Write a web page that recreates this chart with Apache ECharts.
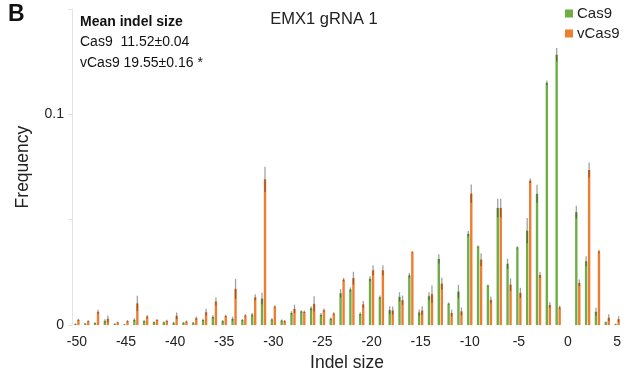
<!DOCTYPE html>
<html>
<head>
<meta charset="utf-8">
<script src="https://cdn.jsdelivr.net/npm/echarts@6/dist/echarts.min.js"></script>
<style>
  html, body { margin: 0; padding: 0; background: #fff; }
  #chart { width: 633px; height: 377px; }
</style>
</head>
<body>
<div id="chart"></div>
<script>
// Indel sizes -50 .. 5
const indelSizes = [];
for (let s = -50; s <= 5; s++) indelSizes.push(String(s));

const xTickLabels = ['-50', '-45', '-40', '-35', '-30', '-25', '-20', '-15', '-10', '-5', '0', '5'];
const yTickLabels = ['0', '0.1'];

const cas9Freq = [
  0.0005, 0.0007, 0.0010, 0.0020, 0.0006, 0.0003, 0.0025, 0.0019, 0.0014, 0.0013,
  0.0011, 0.0011, 0.0011, 0.0024, 0.0039, 0.0019, 0.0030, 0.0024, 0.0050, 0.0126,
  0.0027, 0.0022, 0.0058, 0.0065, 0.0080, 0.0049, 0.0030, 0.0151, 0.0169, 0.0053,
  0.0220, 0.0132, 0.0071, 0.0134, 0.0236, 0.0060, 0.0137, 0.0314, 0.0102, 0.0159,
  0.0433, 0.0373, 0.0188, 0.0556, 0.0291, 0.0369, 0.0448, 0.0623, 0.1150, 0.1283,
  0, 0.0536, 0.0303, 0.0063, 0.0014, 0.0005
];
const vcas9Freq = [
  0.0025, 0.0019, 0.0063, 0.0030, 0.0013, 0.0019, 0.0103, 0.0041, 0.0024, 0.0020,
  0.0044, 0.0017, 0.0033, 0.0061, 0.0112, 0.0043, 0.0172, 0.0046, 0.0132, 0.0692,
  0.0088, 0.0019, 0.0077, 0.0063, 0.0101, 0.0071, 0.0055, 0.0216, 0.0223, 0.0098,
  0.0260, 0.0260, 0.0069, 0.0118, 0.0348, 0.0069, 0.0147, 0.0197, 0.0057, 0.0065,
  0.0624, 0.0311, 0.0120, 0.0556, 0.0192, 0.0153, 0.0685, 0.0238, 0.0095, 0.0084,
  0, 0.0200, 0.0736, 0.0350, 0.0035, 0.0028
];
const cas9Err = [
  0.0003, 0.0003, 0.0004, 0.0008, 0.0003, 0.0002, 0.0007, 0.0005, 0.0004, 0.0004,
  0.0004, 0.0004, 0.0004, 0.0006, 0.0008, 0.0005, 0.0010, 0.0005, 0.0008, 0.0027,
  0.0005, 0.0005, 0.0008, 0.0006, 0.0010, 0.0008, 0.0006, 0.0020, 0.0010, 0.0008,
  0.0013, 0.0008, 0.0019, 0.0022, 0.0011, 0.0014, 0.0019, 0.0022, 0.0005, 0.0032,
  0.0013, 0.0005, 0.0005, 0.0044, 0.0024, 0.0005, 0.0060, 0.0043, 0.0011, 0.0032,
  0, 0.0030, 0.0024, 0.0019, 0.0003, 0.0002
];
const vcas9Err = [
  0.0005, 0.0004, 0.0010, 0.0016, 0.0004, 0.0005, 0.0036, 0.0007, 0.0005, 0.0005,
  0.0016, 0.0005, 0.0008, 0.0016, 0.0019, 0.0006, 0.0047, 0.0006, 0.0014, 0.0060,
  0.0006, 0.0005, 0.0020, 0.0006, 0.0036, 0.0008, 0.0006, 0.0008, 0.0030, 0.0016,
  0.0024, 0.0024, 0.0019, 0.0022, 0.0003, 0.0020, 0.0041, 0.0028, 0.0016, 0.0019,
  0.0043, 0.0030, 0.0016, 0.0044, 0.0030, 0.0024, 0.0011, 0.0014, 0.0014, 0.0008,
  0, 0.0016, 0.0035, 0.0008, 0.0016, 0.0014
];

const GREEN = '#70ad47';
const ORANGE = '#ed7d31';
const FONT = 'Liberation Sans, Arial, Helvetica, sans-serif';

// error bar drawn as a short vertical stroke, shifted onto its bar
function errorBars(values, errs, dx) {
  return {
    type: 'custom',
    z: 5,
    silent: true,
    data: values.map((v, i) => [i, v, errs[i]]),
    renderItem: function (params, api) {
      const i = api.value(0), v = api.value(1), e = api.value(2);
      if (!v || !e) return null;
      const lo = api.coord([i, Math.max(0, v - e)]);
      const hi = api.coord([i, v + e]);
      const x = lo[0] + dx;
      return {
        type: 'line',
        shape: { x1: x, y1: lo[1], x2: x, y2: hi[1] },
        style: { stroke: 'rgba(30,30,30,0.42)', lineWidth: 1.3 }
      };
    }
  };
}

const chart = echarts.init(document.getElementById('chart'));
chart.setOption({
  animation: false,
  textStyle: { fontFamily: FONT },
  title: {
    text: 'EMX1 gRNA 1',
    left: 319,
    top: 6,
    textAlign: 'center',
    textStyle: { fontFamily: FONT, fontSize: 16.5, fontWeight: 'normal', color: '#222' }
  },
  legend: {
    orient: 'vertical',
    left: 565,
    top: 6,
    padding: 0,
    itemWidth: 8,
    itemHeight: 8,
    itemGap: 5,
    icon: 'rect',
    data: ['Cas9', 'vCas9'],
    textStyle: { fontFamily: FONT, fontSize: 15, color: '#222', padding: [1, 0, 0, -1] }
  },
  grid: { left: 72, right: 11, top: 9, bottom: 51.5, containLabel: false },
  xAxis: {
    type: 'category',
    data: indelSizes,
    boundaryGap: true,
    name: 'Indel size',
    nameLocation: 'middle',
    nameGap: 20,
    nameTextStyle: { fontFamily: FONT, fontSize: 17.5, color: '#222' },
    axisLine: { show: false },
    axisTick: { show: false },
    axisLabel: {
      interval: 0,
      margin: 10,
      fontFamily: FONT,
      fontSize: 14,
      color: '#222',
      formatter: v => xTickLabels.includes(v) ? v : ''
    }
  },
  yAxis: {
    type: 'value',
    min: 0,
    max: 0.15,
    interval: 0.05,
    name: 'Frequency',
    nameLocation: 'middle',
    nameGap: 40,
    nameTextStyle: { fontFamily: FONT, fontSize: 17.5, color: '#222' },
    axisLine: { show: true, lineStyle: { color: '#e3e3e3', width: 1 } },
    axisTick: { show: true, inside: false, length: 4, lineStyle: { color: '#e3e3e3' } },
    splitLine: { show: false },
    axisLabel: {
      margin: 8,
      fontFamily: FONT,
      fontSize: 14,
      color: '#222',
      formatter: v => {
        const s = v === 0 ? '0' : String(Math.round(v * 100) / 100);
        return yTickLabels.includes(s) ? s : '';
      }
    }
  },
  series: [
    {
      name: 'Cas9',
      type: 'bar',
      data: cas9Freq,
      barWidth: 2.4,
      barGap: '25%',
      itemStyle: { color: GREEN }
    },
    {
      name: 'vCas9',
      type: 'bar',
      data: vcas9Freq,
      barWidth: 2.4,
      barGap: '25%',
      itemStyle: { color: ORANGE }
    },
    errorBars(cas9Freq, cas9Err, -1.5),
    errorBars(vcas9Freq, vcas9Err, 1.5)
  ],
  graphic: [
    {
      type: 'text', left: 8, top: 3,
      style: { text: 'B', font: 'bold 23px ' + FONT, fill: '#111' }
    },
    {
      type: 'text', left: 80, top: 15,
      style: { text: 'Mean indel size', font: 'bold 14px ' + FONT, fill: '#111' }
    },
    {
      type: 'text', left: 80, top: 35,
      style: { text: 'Cas9  11.52\u00b10.04', font: '14px ' + FONT, fill: '#111' }
    },
    {
      type: 'text', left: 80, top: 56,
      style: { text: 'vCas9 19.55\u00b10.16 *', font: '14px ' + FONT, fill: '#111' }
    }
  ]
});
</script>
</body>
</html>
